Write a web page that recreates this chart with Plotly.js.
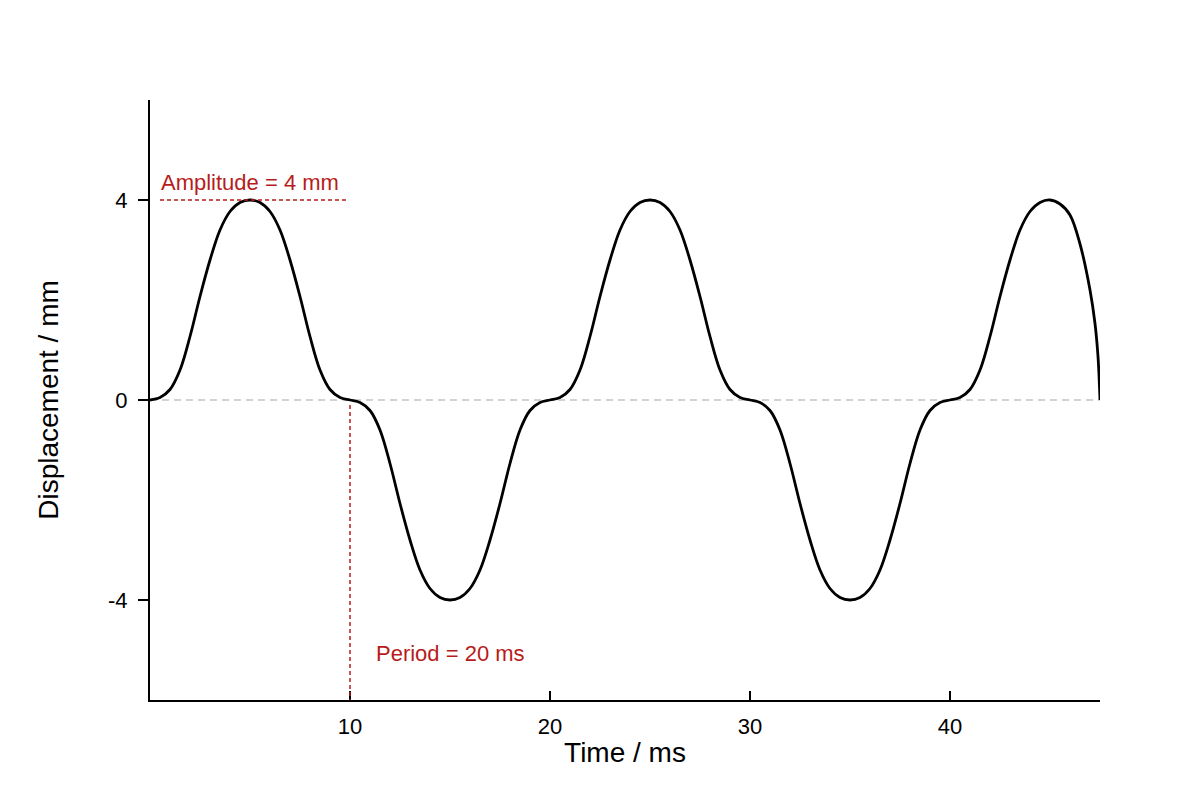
<!DOCTYPE html>
<html>
<head>
<meta charset="utf-8">
<script src="https://cdn.plot.ly/plotly-3.0.1.min.js"></script>
<style>
  html, body { margin: 0; padding: 0; background: #fff; }
  #chart { width: 1200px; height: 800px; }
</style>
</head>
<body>
<div id="chart"></div>
<script>
// time in ms, displacement in mm
const timeMs = [
  0, 0.5, 1, 1.5, 2, 2.5, 3, 3.5, 4, 4.5, 5, 5.5, 6, 6.5, 7, 7.5, 8, 8.5, 9, 9.5,
  10, 10.5, 11, 11.5, 12, 12.5, 13, 13.5, 14, 14.5, 15, 15.5, 16, 16.5, 17, 17.5, 18, 18.5, 19, 19.5,
  20, 20.5, 21, 21.5, 22, 22.5, 23, 23.5, 24, 24.5, 25, 25.5, 26, 26.5, 27, 27.5, 28, 28.5, 29, 29.5,
  30, 30.5, 31, 31.5, 32, 32.5, 33, 33.5, 34, 34.5, 35, 35.5, 36, 36.5, 37, 37.5, 38, 38.5, 39, 39.5,
  40, 40.5, 41, 41.5, 42, 42.5, 43, 43.5, 44, 44.5, 45, 45.5, 46, 46.5, 47, 47.25, 47.4, 47.5
];
const displacementMm = [
  0, 0.05, 0.21, 0.6, 1.27, 2.07, 2.8, 3.4, 3.77, 3.95, 4, 3.95, 3.77, 3.4, 2.8, 2.07, 1.27, 0.6, 0.21, 0.05,
  0, -0.05, -0.21, -0.6, -1.27, -2.07, -2.8, -3.4, -3.77, -3.95, -4, -3.95, -3.77, -3.4, -2.8, -2.07, -1.27, -0.6, -0.21, -0.05,
  0, 0.05, 0.21, 0.6, 1.27, 2.07, 2.8, 3.4, 3.77, 3.95, 4, 3.95, 3.77, 3.4, 2.8, 2.07, 1.27, 0.6, 0.21, 0.05,
  0, -0.05, -0.21, -0.6, -1.27, -2.07, -2.8, -3.4, -3.77, -3.95, -4, -3.95, -3.77, -3.4, -2.8, -2.07, -1.27, -0.6, -0.21, -0.05,
  0, 0.05, 0.21, 0.6, 1.27, 2.07, 2.8, 3.4, 3.77, 3.95, 4, 3.92, 3.7, 3.12, 2.2, 1.53, 0.87, 0
];

const xTicks = [10, 20, 30, 40];
const yTicks = [-4, 0, 4];
const yTickText = ['-4', '0', '4'];

const amplitude = 4;   // mm
const period = 20;     // ms
const tEnd = 47.5;

const red = '#b71c1c';
const font = 'Liberation Sans, Arial, sans-serif';

const trace = {
  x: timeMs,
  y: displacementMm,
  type: 'scatter',
  mode: 'lines',
  line: { color: '#000', width: 2.8, shape: 'spline', smoothing: 1 },
  hoverinfo: 'skip'
};

const layout = {
  width: 1200,
  height: 800,
  margin: { l: 150, r: 100, t: 100, b: 100 },
  paper_bgcolor: '#fff',
  plot_bgcolor: '#fff',
  showlegend: false,
  font: { family: font, color: '#000', size: 22 },
  xaxis: {
    range: [0, tEnd],
    tickvals: xTicks,
    ticks: 'inside',
    ticklen: 9,
    tickwidth: 2,
    tickcolor: '#000',
    showgrid: false,
    zeroline: false,
    showline: true,
    linecolor: '#000',
    linewidth: 2,
    tickfont: { size: 22 },
    ticklabelstandoff: 6,
    title: { text: 'Time / ms', font: { size: 28 }, standoff: 4 },
    fixedrange: true
  },
  yaxis: {
    range: [-6, 6],
    tickvals: yTicks,
    ticktext: yTickText,
    ticks: 'outside',
    ticklen: 10,
    tickwidth: 2,
    tickcolor: '#000',
    showgrid: false,
    zeroline: false,
    showline: true,
    linecolor: '#000',
    linewidth: 2,
    tickfont: { size: 22 },
    ticklabelstandoff: 6,
    title: { text: 'Displacement / mm', font: { size: 28 }, standoff: 41 },
    fixedrange: true
  },
  shapes: [
    // zero line
    { type: 'line', xref: 'x', yref: 'y', x0: 0, x1: tEnd, y0: 0, y1: 0,
      line: { color: '#c4c4c4', width: 1.5, dash: '7px,5px' }, layer: 'below' },
    // amplitude marker
    { type: 'line', xref: 'x', yref: 'y', x0: 0.5, x1: period / 2 - 0.2, y0: amplitude, y1: amplitude,
      line: { color: red, width: 1.5, dash: '4px,3px' } },
    // period marker
    { type: 'line', xref: 'x', yref: 'y', x0: period / 2, x1: period / 2, y0: -0.1, y1: -6,
      line: { color: red, width: 1.5, dash: '4px,3px' } }
  ],
  annotations: [
    { xref: 'x', yref: 'y', x: period / 4, y: amplitude + 0.35, text: 'Amplitude = ' + amplitude + ' mm',
      showarrow: false, font: { color: red, size: 22, family: font } },
    { xref: 'x', yref: 'y', x: period * 0.75, y: -5.06, text: 'Period = ' + period + ' ms',
      showarrow: false, font: { color: red, size: 22, family: font } }
  ]
};

Plotly.newPlot('chart', [trace], layout, { displayModeBar: false, staticPlot: true });
</script>
</body>
</html>
